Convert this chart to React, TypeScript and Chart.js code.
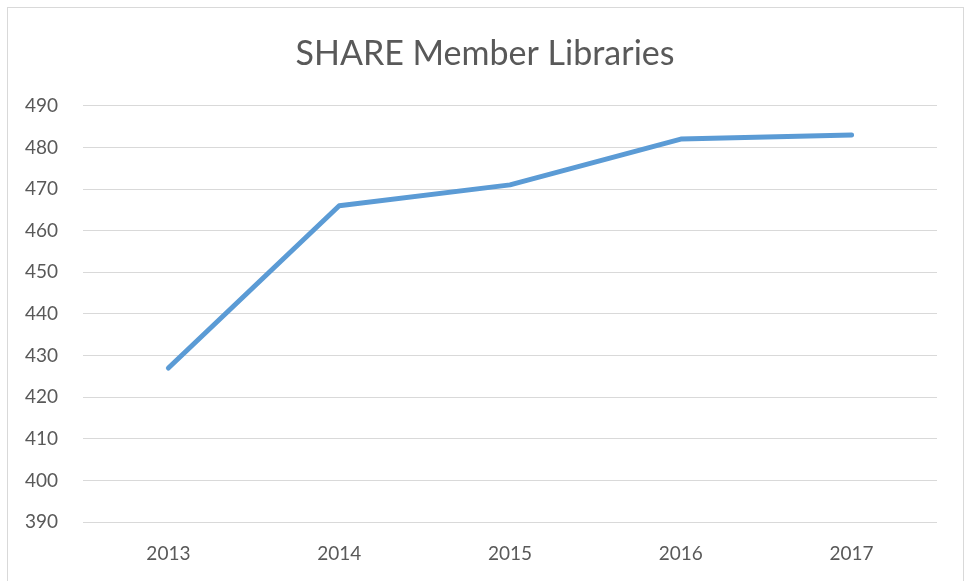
import React, { useEffect, useRef } from "react";
import { Chart, registerables } from "chart.js";

Chart.register(...registerables);

const TITLE = "SHARE Member Libraries";
const YEARS = ["2013", "2014", "2015", "2016", "2017"];
const MEMBERS = [427, 466, 471, 482, 483];
const Y_MIN = 390;
const Y_MAX = 490;
const Y_STEP = 10;

const FONT = "Lato, 'Liberation Sans', sans-serif";
const TEXT = "#595959";

// Center the title over the whole canvas instead of the padded area
const centerTitle = {
  id: "centerTitle",
  afterLayout(chart: any) {
    const t = chart.titleBlock;
    if (t) {
      t.left = 0;
      t.right = chart.width;
      t.width = chart.width;
    }
  },
};

export default function App() {
  const ref = useRef<HTMLCanvasElement | null>(null);

  useEffect(() => {
    if (!ref.current) return;
    const chart = new Chart(ref.current, {
      type: "line",
      data: {
        labels: YEARS,
        datasets: [
          {
            label: "Members",
            data: MEMBERS,
            borderColor: "#5B9BD5",
            backgroundColor: "#5B9BD5",
            borderWidth: 5,
            pointRadius: 0,
            pointHoverRadius: 0,
            tension: 0,
            borderCapStyle: "round",
            borderJoinStyle: "round",
          },
        ],
      },
      plugins: [centerTitle],
      options: {
        animation: false,
        responsive: false,
        maintainAspectRatio: false,
        layout: { padding: { left: 0, right: 25, top: 0, bottom: 0 } },
        plugins: {
          legend: { display: false },
          tooltip: { enabled: false },
          title: {
            display: true,
            text: TITLE,
            color: TEXT,
            font: { family: FONT, size: 34, weight: "normal" },
            padding: { top: 26, bottom: 31 },
          },
        },
        scales: {
          x: {
            offset: true,
            grid: { display: false, drawTicks: false },
            border: { display: false },
            ticks: {
              color: TEXT,
              font: { family: FONT, size: 19 },
              padding: 20,
            },
            afterFit: (s: any) => {
              s.height = 58;
            },
          },
          y: {
            min: Y_MIN,
            max: Y_MAX,
            grid: { color: "#d9d9d9", lineWidth: 1, drawTicks: false },
            border: { display: false },
            ticks: {
              stepSize: Y_STEP,
              color: TEXT,
              font: { family: FONT, size: 19 },
              padding: 25,
            },
            afterFit: (s: any) => {
              s.width = 75;
            },
          },
        },
      },
    });
    return () => chart.destroy();
  }, []);

  return (
    <div
      style={{
        position: "absolute",
        left: 7,
        top: 7,
        width: 957,
        height: 580,
        border: "1px solid #d9d9d9",
        boxSizing: "border-box",
        background: "#fff",
      }}
    >
      <canvas ref={ref} width={954} height={572} style={{ display: "block" }} />
    </div>
  );
}
